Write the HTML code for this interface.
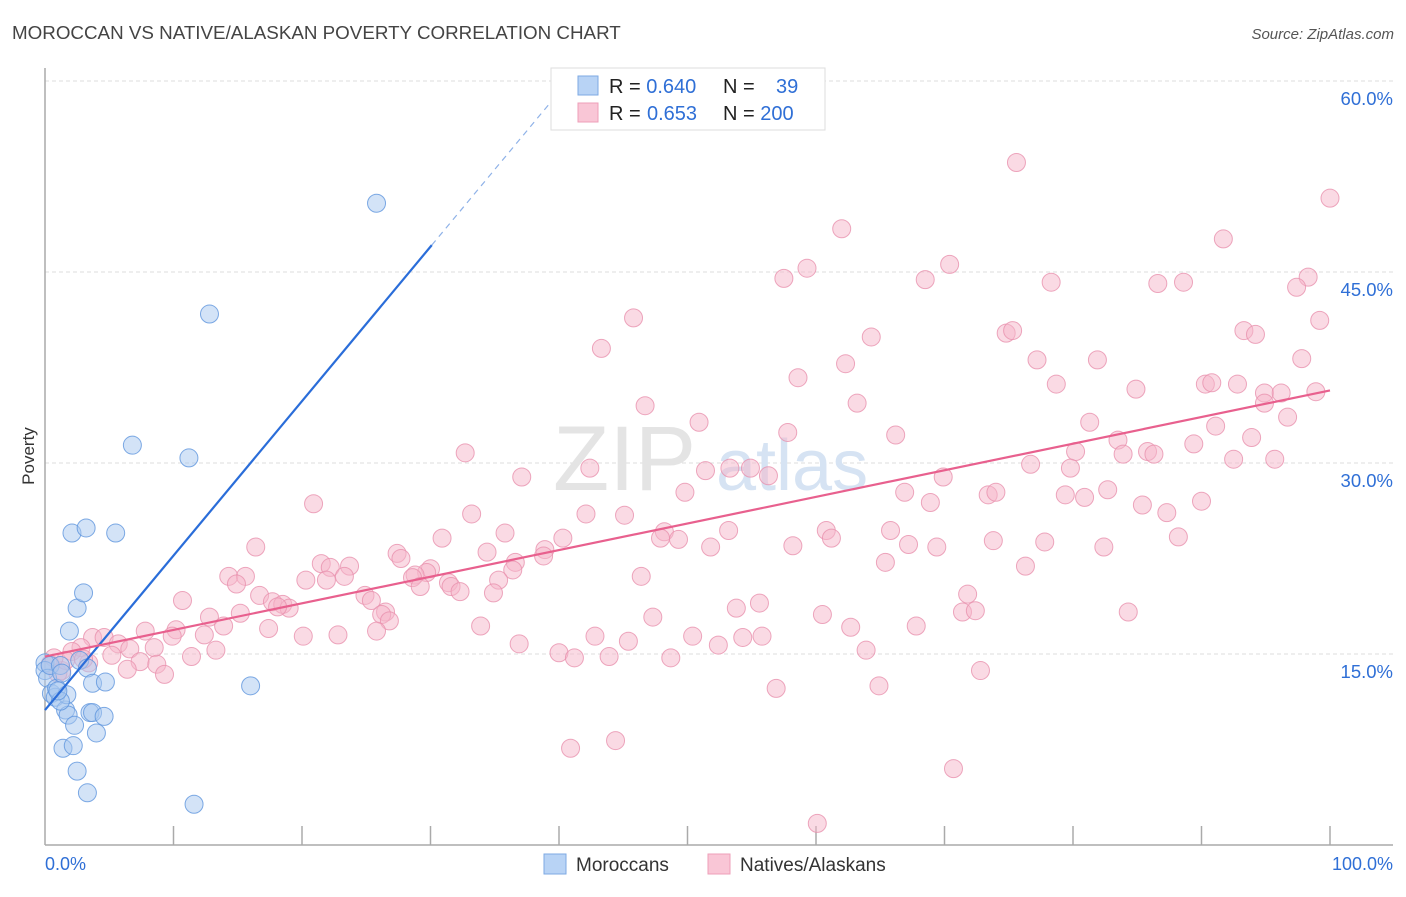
<!DOCTYPE html>
<html><head><meta charset="utf-8"><style>
body{margin:0;background:#fff;font-family:"Liberation Sans",sans-serif}
svg text{font-family:"Liberation Sans",sans-serif}
</style></head><body>
<svg id="chart" width="1406" height="892" viewBox="0 0 1406 892">
<text x="12" y="39" font-size="18.8" fill="#444">MOROCCAN VS NATIVE/ALASKAN POVERTY CORRELATION CHART</text>
<text x="1394" y="39" font-size="15" fill="#555" font-style="italic" text-anchor="end">Source: ZipAtlas.com</text>
<text x="34" y="456" font-size="17" fill="#333" text-anchor="middle" transform="rotate(-90 34 456)">Poverty</text>
<g id="grid"></g>
<g id="yticks"></g>
<text x="553" y="490" font-size="92" fill="#e4e4e4" font-family="Liberation Serif">ZIP</text>
<text x="716" y="490" font-size="72" fill="#d6e3f3">atlas</text>
<g id="axes"></g>
<g id="pink"></g>
<g id="blue"></g>
<g id="trends"></g>
<g>
<rect x="551" y="68" width="274" height="62" fill="#fff" stroke="#ddd"/>
<rect x="578" y="76" width="20" height="19" fill="#b8d3f5" stroke="#7ea9e3"/>
<rect x="578" y="103" width="20" height="19" fill="#f9c6d6" stroke="#ee9fb8"/>
<text x="609" y="93" font-size="20" fill="#222">R = <tspan fill="#2f6fd6">0.640</tspan></text>
<text x="723" y="93" font-size="20" fill="#222">N = <tspan x="776" fill="#2f6fd6">39</tspan></text>
<text x="609" y="120" font-size="20" fill="#222">R = <tspan x="647" fill="#2f6fd6">0.653</tspan></text>
<text x="723" y="120" font-size="20" fill="#222">N = <tspan fill="#2f6fd6">200</tspan></text>
</g>
<g>
<rect x="544" y="854" width="22" height="20" fill="#b8d3f5" stroke="#7ea9e3"/>
<text x="576" y="871" font-size="19" fill="#333">Moroccans</text>
<rect x="708" y="854" width="22" height="20" fill="#f9c6d6" stroke="#ee9fb8"/>
<text x="740" y="871" font-size="19" fill="#333">Natives/Alaskans</text>
</g>
<text x="45" y="870" font-size="18" fill="#2f6fd6">0.0%</text>
<text x="1393" y="870" font-size="18" fill="#2f6fd6" text-anchor="end">100.0%</text>
</svg>
<script>
const yTicks=[15,30,45,60];
const yTickLabels=["15.0%","30.0%","45.0%","60.0%"];
const xTicks=[10,20,30,40,50,60,70,80,90,100];
const blueX=[0,0,0.2,0.4,0.5,0.8,0.9,1.2,1.3,1.4,1.6,1.7,1.8,1.9,2.1,2.2,2.3,2.5,2.5,2.7,3.0,3.2,3.3,3.3,3.5,3.7,3.7,4.0,4.6,4.7,5.5,6.8,11.2,11.6,12.8,16.0,25.8,1.2,1.0];
const blueY=[14.3,13.7,13.1,14.1,11.9,11.6,12.3,14.1,13.5,7.6,10.6,11.8,10.2,16.8,24.5,7.8,9.4,5.8,18.6,14.5,19.8,24.9,4.1,13.9,10.4,12.7,10.4,8.8,10.1,12.8,24.5,31.4,30.4,3.2,41.7,12.5,50.4,11.3,12.1];
const pinkX=[75.6,100,62.0,91.7,70.4,59.3,57.5,68.5,78.3,86.6,88.6,98.3,97.4,45.8,99.2,74.8,75.3,93.3,94.2,64.3,43.3,77.2,81.9,97.8,62.3,58.6,78.7,84.9,90.3,90.8,92.8,94.9,96.2,98.9,46.7,63.2,94.9,81.3,50.9,96.7,57.8,66.2,91.1,83.5,93.9,85.8,86.3,32.7,80.2,83.9,89.4,92.5,95.7,42.4,79.8,76.7,51.4,53.3,54.9,56.3,37.1,69.9,49.8,66.9,73.4,74.0,82.7,79.4,80.9,68.9,90.0,20.9,42.1,45.1,85.4,87.3,33.2,35.8,48.2,47.9,49.3,53.2,60.8,61.2,65.8,58.2,51.8,67.2,69.4,73.8,77.8,82.4,88.2,30.9,40.3,16.4,38.9,27.4,34.4,27.7,21.5,23.7,38.8,36.6,22.2,30.0,29.7,36.4,65.4,76.3,14.3,15.6,14.9,20.3,21.9,23.3,28.8,28.6,31.4,35.3,46.4,31.6,29.2,32.3,34.9,16.7,24.9,25.4,10.7,17.7,18.5,19.0,18.1,71.8,71.4,72.4,26.5,26.2,26.8,15.2,12.8,47.3,53.8,55.6,60.5,84.3,13.9,62.7,67.8,33.9,25.8,17.4,7.8,10.2,3.7,4.6,2.8,5.7,9.9,12.4,20.1,22.8,42.8,50.4,52.4,54.3,55.8,36.9,45.4,2.1,6.6,8.5,13.3,3.4,5.2,7.4,8.7,11.4,40.0,41.2,43.9,48.7,63.9,1.3,3.0,6.4,9.3,72.8,56.9,64.9,40.9,44.4,70.7,60.1,0.4,1.0,1.6,0.7];
const pinkY=[53.6,50.8,48.4,47.6,45.6,45.3,44.5,44.4,44.2,44.1,44.2,44.6,43.8,41.4,41.2,40.2,40.4,40.4,40.1,39.9,39.0,38.1,38.1,38.2,37.8,36.7,36.2,35.8,36.2,36.3,36.2,35.5,35.5,35.6,34.5,34.7,34.7,33.2,33.2,33.6,32.4,32.2,32.9,31.8,32.0,30.9,30.7,30.8,30.9,30.7,31.5,30.3,30.3,29.6,29.6,29.9,29.4,29.6,29.6,29.0,28.9,28.9,27.7,27.7,27.5,27.7,27.9,27.5,27.3,26.9,27.0,26.8,26.0,25.9,26.7,26.1,26.0,24.5,24.6,24.1,24.0,24.7,24.7,24.1,24.7,23.5,23.4,23.6,23.4,23.9,23.8,23.4,24.2,24.1,24.1,23.4,23.2,22.9,23.0,22.5,22.1,21.9,22.7,22.2,21.8,21.7,21.4,21.6,22.2,21.9,21.1,21.1,20.5,20.8,20.8,21.1,21.2,21.0,20.6,20.8,21.1,20.3,20.3,19.9,19.8,19.6,19.6,19.2,19.2,19.1,18.9,18.6,18.7,19.7,18.3,18.4,18.3,18.1,17.6,18.2,17.9,17.9,18.6,19.0,18.1,18.3,17.2,17.1,17.2,17.2,16.8,17.0,16.8,16.9,16.3,16.3,15.5,15.8,16.4,16.5,16.4,16.5,16.4,16.4,15.7,16.3,16.4,15.8,16.0,15.2,15.4,15.5,15.3,14.3,14.9,14.4,14.2,14.8,15.1,14.7,14.8,14.7,15.3,13.7,14.6,13.8,13.4,13.7,12.3,12.5,7.6,8.2,6.0,1.7,14.2,13.5,14.5,14.7];
const blueTrend=[10.6,1.213];
const pinkTrend=[14.8,0.209];
const NS='http://www.w3.org/2000/svg';
const X0=45,X1=1330,Y0=845,PXY=12.733;
function sx(v){return X0+(X1-X0)*v/100;}
function sy(v){return Y0-v*PXY;}
function mk(tag,attrs,parent){const e=document.createElementNS(NS,tag);for(const k in attrs)e.setAttribute(k,attrs[k]);parent.appendChild(e);return e;}
const grid=document.getElementById('grid'),yt=document.getElementById('yticks'),axes=document.getElementById('axes');
yTicks.forEach((t,i)=>{
 const l=mk('line',{x1:X0,x2:1393,y1:sy(t),y2:sy(t),stroke:'#ddd','stroke-dasharray':'4,3'},grid);
 
 
 const tx=mk('text',{x:1393,y:sy(t)+24,'font-size':18.5,fill:'#2f6fd6','text-anchor':'end'},yt);
 tx.textContent=yTickLabels[i];
 
 
});
const xa=mk('line',{x1:X0,x2:1393,y1:Y0,y2:Y0,stroke:'#aaa','stroke-width':1.5},axes);


const ya=mk('line',{x1:X0,x2:X0,y1:68,y2:Y0,stroke:'#aaa','stroke-width':1.5},axes);


xTicks.forEach(t=>{
 const l=mk('line',{x1:sx(t),x2:sx(t),y1:Y0,y2:Y0-19,stroke:'#aaa','stroke-width':1.5},axes);
 
 
});
function pts(xs,ys,g,fill,stroke,name){
 xs.forEach((x,i)=>{
  const c=mk('circle',{cx:sx(x),cy:sy(ys[i]),r:9,fill:fill,'fill-opacity':0.5,stroke:stroke,'stroke-width':1,'stroke-opacity':0.8},g);
  
  
 });
}
pts(pinkX,pinkY,document.getElementById('pink'),'#f6b6ca','#e991ae','natives-point');
pts(blueX,blueY,document.getElementById('blue'),'#a8c7f0','#5e95dd','moroccans-point');
const tr=document.getElementById('trends');
const bl=mk('line',{x1:sx(0),y1:sy(blueTrend[0]),x2:sx(30.1),y2:sy(blueTrend[0]+blueTrend[1]*30.1),stroke:'#2a6dd9','stroke-width':2.2},tr);


const bd=mk('line',{x1:sx(30.1),y1:sy(blueTrend[0]+blueTrend[1]*30.1),x2:sx(39.7),y2:sy(blueTrend[0]+blueTrend[1]*39.7),stroke:'#8fb2e8','stroke-width':1.2,'stroke-dasharray':'6,5'},tr);


const pl=mk('line',{x1:sx(0),y1:sy(pinkTrend[0]),x2:sx(100),y2:sy(pinkTrend[0]+pinkTrend[1]*100),stroke:'#e8608e','stroke-width':2.2},tr);


</script>
</body></html>
